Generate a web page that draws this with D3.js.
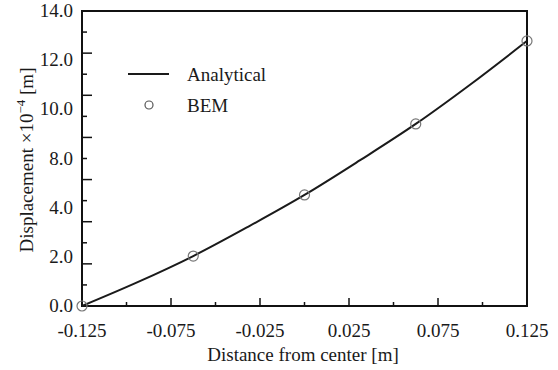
<!DOCTYPE html>
<meta charset="utf-8">
<style>
  body { margin: 0; background: #fff; }
  text { font-family: "Liberation Serif", "DejaVu Serif", serif; fill: #1a1a1a; }
</style>
<body>
<svg width="558" height="370"></svg>
<script src="https://cdn.jsdelivr.net/npm/d3@7/dist/d3.min.js"></script>
<script>
  // analytical curve
  var analyticalX = [-0.125, -0.09375, -0.0625, -0.03125, 0, 0.03125, 0.0625, 0.09375, 0.125];
  var analyticalY = [0.0, 1.13, 2.37, 3.78, 5.27, 6.92, 8.64, 10.55, 12.58];

  // BEM points
  var bemX = [-0.125, -0.0625, 0, 0.0625, 0.125];
  var bemY = [0.0, 2.37, 5.27, 8.64, 12.58];

  var xTickLabels = ['-0.125', '-0.075', '-0.025', '0.025', '0.075', '0.125'];
  // labels as printed (evenly spaced, 6.0 missing in the original)
  var yTickLabels = ['0.0', '2.0', '4.0', '8.0', '10.0', '12.0', '14.0'];
  var xMinor = [-0.1, -0.05, 0, 0.05, 0.1];
  var yMajor = [2, 4, 6, 8, 10, 12];
  var yMinor = [1, 3, 5, 7, 9, 11, 13];

  var svg = d3.select('svg');
  var pLeft = 82, pRight = 527, pTop = 11, pBottom = 306;

  var x = d3.scaleLinear().domain([-0.125, 0.125]).range([pLeft, pRight]);
  var y = d3.scaleLinear().domain([0, 14]).range([pBottom, pTop]);
  var yLab = d3.scalePoint().domain(yTickLabels).range([pBottom, pTop]);

  var g = svg.append('g');

  // frame
  g.append('rect')
    .attr('x', pLeft).attr('y', pTop)
    .attr('width', pRight - pLeft).attr('height', pBottom - pTop)
    .attr('fill', 'none')
    .attr('stroke', '#111')
    .attr('stroke-width', 2);

  // x ticks (inward)
  g.selectAll('.xmaj').data(xTickLabels.slice(1, -1)).enter().append('line')
    .attr('x1', function (d) { return x(+d); }).attr('x2', function (d) { return x(+d); })
    .attr('y1', pBottom).attr('y2', pBottom - 8)
    .attr('stroke', '#111').attr('stroke-width', 1.5);
  g.selectAll('.xmin').data(xMinor).enter().append('line')
    .attr('x1', function (d) { return x(d); }).attr('x2', function (d) { return x(d); })
    .attr('y1', pBottom).attr('y2', pBottom - 4)
    .attr('stroke', '#111').attr('stroke-width', 1.5);

  // y ticks (inward)
  g.selectAll('.ymaj').data(yMajor).enter().append('line')
    .attr('x1', pLeft).attr('x2', pLeft + 10)
    .attr('y1', function (d) { return y(d); }).attr('y2', function (d) { return y(d); })
    .attr('stroke', '#111').attr('stroke-width', 1.5);
  g.selectAll('.ymin').data(yMinor).enter().append('line')
    .attr('x1', pLeft).attr('x2', pLeft + 5)
    .attr('y1', function (d) { return y(d); }).attr('y2', function (d) { return y(d); })
    .attr('stroke', '#111').attr('stroke-width', 1.5);

  // tick labels
  g.selectAll('.xl').data(xTickLabels).enter().append('text')
    .attr('x', function (d) { return x(+d); })
    .attr('y', 337)
    .attr('text-anchor', 'middle')
    .attr('font-size', 19)
    .text(function (d) { return d; });

  g.selectAll('.yl').data(yTickLabels).enter().append('text')
    .attr('x', 73)
    .attr('y', function (d) { return yLab(d) + 6; })
    .attr('text-anchor', 'end')
    .attr('font-size', 19)
    .text(function (d) { return d; });

  // axis titles
  svg.append('text')
    .attr('x', 303).attr('y', 361)
    .attr('text-anchor', 'middle')
    .attr('font-size', 19)
    .text('Distance from center [m]');

  var yt = svg.append('text')
    .attr('transform', 'translate(33,160) rotate(-90)')
    .attr('text-anchor', 'middle')
    .attr('font-size', 19);
  yt.append('tspan').text('Displacement \u00d710');
  yt.append('tspan').attr('dy', -8).attr('font-size', 13).text('\u22124');
  yt.append('tspan').attr('dy', 8).text(' [m]');

  // analytical line
  var line = d3.line()
    .curve(d3.curveMonotoneX)
    .x(function (d) { return x(d[0]); })
    .y(function (d) { return y(d[1]); });
  g.append('path')
    .datum(d3.zip(analyticalX, analyticalY))
    .attr('d', line)
    .attr('fill', 'none')
    .attr('stroke', '#1a1a1a')
    .attr('stroke-width', 2);

  // BEM circles
  g.selectAll('.bem').data(d3.zip(bemX, bemY)).enter().append('circle')
    .attr('cx', function (d) { return x(d[0]); })
    .attr('cy', function (d) { return y(d[1]); })
    .attr('r', 5)
    .attr('fill', 'none')
    .attr('stroke', '#777')
    .attr('stroke-width', 1.2);

  // legend
  var lg = svg.append('g');
  lg.append('line')
    .attr('x1', 128).attr('x2', 169).attr('y1', 74).attr('y2', 74)
    .attr('stroke', '#1a1a1a').attr('stroke-width', 2);
  lg.append('text').attr('x', 187).attr('y', 81).attr('font-size', 19).text('Analytical');
  lg.append('circle')
    .attr('cx', 149).attr('cy', 105).attr('r', 4)
    .attr('fill', 'none').attr('stroke', '#555').attr('stroke-width', 1.2);
  lg.append('text').attr('x', 187).attr('y', 112).attr('font-size', 19).text('BEM');
</script>
</body>
